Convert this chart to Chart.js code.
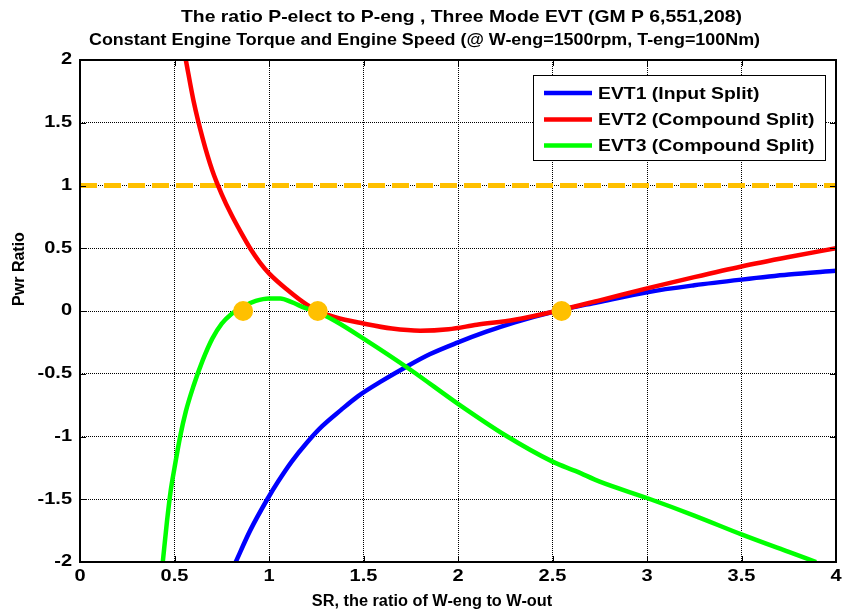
<!DOCTYPE html>
<html>
<head>
<meta charset="utf-8">
<script src="https://cdn.jsdelivr.net/npm/chart.js@4/dist/chart.umd.min.js"></script>
<style>
html,body{margin:0;padding:0;background:#ffffff;}
#wrap{width:846px;height:613px;position:relative;}
canvas{display:block;}
</style>
</head>
<body>
<div id="wrap"><canvas id="chart" width="846" height="613"></canvas></div>
<script>
// ---------- text ----------
const titleLines = [
  'The ratio P-elect to P-eng , Three Mode EVT (GM P 6,551,208)',
  'Constant Engine Torque and Engine Speed (@ W-eng=1500rpm, T-eng=100Nm)'
];
const xAxisTitle = 'SR, the ratio of W-eng to W-out';
const yAxisTitle = 'Pwr Ratio';
const seriesNames = ['EVT1 (Input Split)', 'EVT2 (Compound Split)', 'EVT3 (Compound Split)'];

// ---------- axes ----------
const xTicks = [0, 0.5, 1, 1.5, 2, 2.5, 3, 3.5, 4];
const xTickLabels = ['0', '0.5', '1', '1.5', '2', '2.5', '3', '3.5', '4'];
const yTicks = [-2, -1.5, -1, -0.5, 0, 0.5, 1, 1.5, 2];
const yTickLabels = ['-2', '-1.5', '-1', '-0.5', '0', '0.5', '1', '1.5', '2'];

// ---------- series ----------
const evt1X = [0.824, 0.9, 0.991, 1.05, 1.12, 1.2, 1.28, 1.38, 1.47, 1.6, 1.72, 1.85, 2.0, 2.15, 2.3, 2.52, 2.74, 3.0, 3.25, 3.5, 3.75, 4.0];
const evt1Y = [-2, -1.75, -1.5, -1.355, -1.2, -1.05, -0.92, -0.79, -0.68, -0.555, -0.45, -0.345, -0.25, -0.165, -0.09, 0, 0.07, 0.15, 0.205, 0.25, 0.29, 0.32];

const evt2X = [0.56, 0.6, 0.65, 0.7, 0.75, 0.8, 0.85, 0.9, 0.95, 1.0, 1.1, 1.2, 1.258, 1.35, 1.5, 1.65, 1.8, 1.95, 2.1, 2.3, 2.52, 2.75, 3.0, 3.25, 3.5, 3.75, 4.0];
const evt2Y = [2, 1.68, 1.37, 1.12, 0.93, 0.77, 0.63, 0.5, 0.39, 0.3, 0.165, 0.05, 0, -0.05, -0.1, -0.14, -0.157, -0.145, -0.11, -0.07, 0, 0.085, 0.18, 0.27, 0.355, 0.43, 0.5];

const evt3X = [0.438, 0.46, 0.48, 0.5, 0.53, 0.56, 0.6, 0.65, 0.7, 0.75, 0.8, 0.863, 0.93, 1.0, 1.06, 1.12, 1.19, 1.258, 1.35, 1.5, 1.75, 2.0, 2.25, 2.5, 2.63, 2.75, 3.0, 3.25, 3.5, 3.75, 3.895];
const evt3Y = [-2, -1.68, -1.43, -1.25, -1.0, -0.8, -0.6, -0.39, -0.22, -0.1, -0.025, 0.035, 0.08, 0.1, 0.1, 0.07, 0.025, -0.01, -0.08, -0.22, -0.47, -0.74, -0.99, -1.2, -1.28, -1.36, -1.49, -1.63, -1.78, -1.92, -2];

const refLineX = [0, 4];
const refLineY = [1, 1];

const zeroPointX = [0.863, 1.258, 2.548];
const zeroPointY = [0, 0, 0];

// ---------- helpers ----------
const pts = (xs, ys) => xs.map((x, i) => ({x: x, y: ys[i]}));
const FONT = '"Liberation Sans", Arial, Helvetica, sans-serif';
const BLUE = '#0000ff', RED = '#ff0000', GREEN = '#00ff00', ORANGE = '#ffc000';
const seriesColors = [BLUE, RED, GREEN];

// draw text with a horizontal stretch factor sx (or fit into a target width)
function stretchedText(ctx, text, x, y, font, sx, align, targetW) {
  ctx.save();
  ctx.font = font;
  ctx.textBaseline = 'middle';
  ctx.textAlign = 'left';
  const nat = ctx.measureText(text).width;
  if (targetW) sx = targetW / nat;
  const w = nat * sx;
  let x0 = x;
  if (align === 'center') x0 = x - w / 2;
  else if (align === 'right') x0 = x - w;
  ctx.translate(x0, y);
  ctx.scale(sx, 1);
  ctx.fillStyle = '#000';
  ctx.fillText(text, 0, 0);
  ctx.restore();
}

const decorPlugin = {
  id: 'decor',
  afterDraw(chart) {
    const ctx = chart.ctx;
    const a = chart.chartArea;
    const xs = chart.scales.x, ys = chart.scales.y;

    // inner tick marks (MATLAB style)
    ctx.save();
    ctx.strokeStyle = '#000';
    ctx.lineWidth = 1;
    ctx.beginPath();
    xTicks.forEach(v => {
      const px = Math.round(xs.getPixelForValue(v)) + 0.5;
      ctx.moveTo(px, a.bottom); ctx.lineTo(px, a.bottom - 6);
      ctx.moveTo(px, a.top); ctx.lineTo(px, a.top + 6);
    });
    yTicks.forEach(v => {
      const py = Math.round(ys.getPixelForValue(v)) + 0.5;
      ctx.moveTo(a.left, py); ctx.lineTo(a.left + 6, py);
      ctx.moveTo(a.right, py); ctx.lineTo(a.right - 6, py);
    });
    ctx.stroke();
    // frame
    ctx.lineWidth = 2;
    ctx.strokeRect(a.left, a.top, a.right - a.left, a.bottom - a.top);
    ctx.restore();

    // tick labels, placed through the chart scales
    const tickFont = 'bold 16px ' + FONT;
    xTicks.forEach((v, i) => {
      stretchedText(ctx, xTickLabels[i], xs.getPixelForValue(v), a.bottom + 15, tickFont, 1.25, 'center');
    });
    yTicks.forEach((v, i) => {
      stretchedText(ctx, yTickLabels[i], a.left - 8, ys.getPixelForValue(v), tickFont, 1.25, 'right');
    });

    // legend box
    const lx = 533, ly = 75, lw = 292, lh = 85;
    ctx.save();
    ctx.fillStyle = '#fff';
    ctx.fillRect(lx, ly, lw, lh);
    ctx.strokeStyle = '#000';
    ctx.lineWidth = 1;
    ctx.strokeRect(lx + 0.5, ly + 0.5, lw, lh);
    const rowY = [93, 119.5, 145.5];
    seriesNames.forEach((name, i) => {
      ctx.strokeStyle = seriesColors[i];
      ctx.lineWidth = 4.5;
      ctx.beginPath();
      ctx.moveTo(544, rowY[i]);
      ctx.lineTo(592, rowY[i]);
      ctx.stroke();
      stretchedText(ctx, name, 598, rowY[i] + 1, 'bold 17px ' + FONT, 1.14, 'left');
    });
    ctx.restore();

    // titles
    stretchedText(ctx, titleLines[0], 181, 17, 'bold 17px ' + FONT, 1, 'left', 561);
    stretchedText(ctx, titleLines[1], 89, 40, 'bold 17px ' + FONT, 1, 'left', 671);
    stretchedText(ctx, xAxisTitle, 432, 602, 'bold 16px ' + FONT, 1.02, 'center');

    ctx.save();
    ctx.translate(20, 269);
    ctx.rotate(-Math.PI / 2);
    ctx.font = 'bold 16px ' + FONT;
    ctx.textAlign = 'center';
    ctx.textBaseline = 'middle';
    ctx.fillStyle = '#000';
    ctx.fillText(yAxisTitle, 0, 0);
    ctx.restore();
  }
};

const lineDs = (label, xs, ys, color, order) => ({
  label: label,
  data: pts(xs, ys),
  borderColor: color,
  backgroundColor: color,
  borderWidth: 4.5,
  pointRadius: 0,
  pointHoverRadius: 0,
  fill: false,
  cubicInterpolationMode: 'monotone',
  order: order
});

new Chart(document.getElementById('chart'), {
  type: 'line',
  data: {
    datasets: [
      lineDs(seriesNames[0], evt1X, evt1Y, BLUE, 4),
      lineDs(seriesNames[1], evt2X, evt2Y, RED, 3),
      lineDs(seriesNames[2], evt3X, evt3Y, GREEN, 2),
      {
        label: 'ref',
        data: pts(refLineX, refLineY),
        borderColor: ORANGE,
        borderWidth: 5,
        borderDash: [17, 7],
        borderCapStyle: 'butt',
        pointRadius: 0,
        fill: false,
        tension: 0,
        order: 5
      },
      {
        type: 'scatter',
        label: 'zeros',
        data: pts(zeroPointX, zeroPointY),
        backgroundColor: ORANGE,
        borderColor: ORANGE,
        borderWidth: 0,
        pointRadius: 10,
        pointHoverRadius: 10,
        order: 0
      }
    ]
  },
  options: {
    responsive: false,
    animation: false,
    devicePixelRatio: 1,
    layout: {padding: {top: 60, right: 6, left: 0, bottom: 0}},
    plugins: {
      legend: {display: false},
      title: {display: false},
      tooltip: {enabled: false}
    },
    scales: {
      x: {
        type: 'linear',
        min: 0, max: 4,
        afterBuildTicks: s => { s.ticks = xTicks.map(v => ({value: v})); },
        afterFit: s => { s.height = 51; },
        ticks: {display: false, autoSkip: false},
        grid: {color: '#000', lineWidth: 1, drawTicks: false, tickLength: 0},
        border: {display: false, dash: [1, 1]}
      },
      y: {
        type: 'linear',
        min: -2, max: 2,
        afterBuildTicks: s => { s.ticks = yTicks.map(v => ({value: v})); },
        afterFit: s => { s.width = 80; },
        ticks: {display: false, autoSkip: false},
        grid: {color: '#000', lineWidth: 1, drawTicks: false, tickLength: 0},
        border: {display: false, dash: [1, 1]}
      }
    }
  },
  plugins: [decorPlugin]
});
</script>
</body>
</html>
